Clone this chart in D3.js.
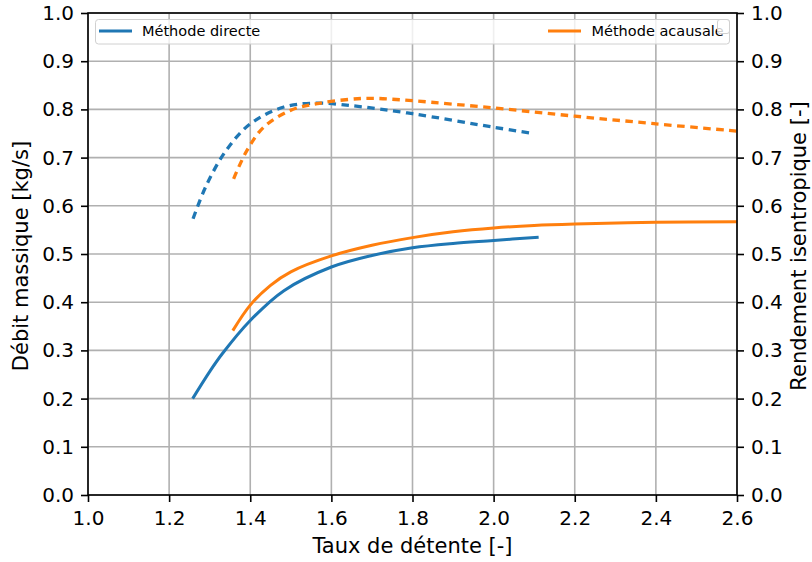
<!DOCTYPE html>
<html>
<head>
<meta charset="utf-8">
<script src="https://cdn.jsdelivr.net/npm/d3@7"></script>
<style>
  html, body { margin: 0; padding: 0; background: #fff; }
  svg { display: block; font-family: "DejaVu Sans", sans-serif; }
</style>
</head>
<body>
<svg id="chart" width="812" height="562"></svg>
<script>
// ---- data ----
const xTicks = [1.0, 1.2, 1.4, 1.6, 1.8, 2.0, 2.2, 2.4, 2.6];
const yTicks = [0.0, 0.1, 0.2, 0.3, 0.4, 0.5, 0.6, 0.7, 0.8, 0.9, 1.0];

// mass flow (left axis), solid lines
const directFlowX = [1.258, 1.30, 1.331, 1.40, 1.483, 1.60, 1.70, 1.80, 1.90, 2.00, 2.111];
const directFlowY = [0.200, 0.256, 0.293, 0.362, 0.424, 0.473, 0.497, 0.513, 0.522, 0.528, 0.535];
const acausalFlowX = [1.357, 1.40, 1.45, 1.50, 1.60, 1.70, 1.80, 1.90, 2.00, 2.10, 2.20, 2.40, 2.60];
const acausalFlowY = [0.341, 0.394, 0.435, 0.463, 0.496, 0.518, 0.534, 0.546, 0.554, 0.559, 0.562, 0.566, 0.567];

// isentropic efficiency (right axis), dashed lines
const directEffX = [1.259, 1.29, 1.339, 1.40, 1.483, 1.565, 1.647, 1.80, 2.00, 2.091];
const directEffY = [0.573, 0.639, 0.713, 0.770, 0.805, 0.813, 0.808, 0.791, 0.763, 0.751];
const acausalEffX = [1.359, 1.392, 1.433, 1.499, 1.565, 1.647, 1.70, 1.80, 2.00, 2.20, 2.40, 2.60];
const acausalEffY = [0.656, 0.715, 0.763, 0.798, 0.812, 0.821, 0.823, 0.818, 0.803, 0.786, 0.770, 0.755];

const seriesNames = ["Méthode directe", "Méthode acausale"];
const seriesColors = ["#1f77b4", "#ff7f0e"];
const xLabel = "Taux de détente [-]";
const yLabelLeft = "Débit massique [kg/s]";
const yLabelRight = "Rendement isentropique [-]";

// ---- layout ----
const W = 812, H = 562;
const m = { left: 88, right: 75, top: 13, bottom: 67 };
const iw = W - m.left - m.right, ih = H - m.top - m.bottom;
const tickFont = 20, labelFont = 21, legendFont = 14.5;

const svg = d3.select("#chart");
const g = svg.append("g").attr("transform", `translate(${m.left},${m.top})`);

const x = d3.scaleLinear().domain([1.0, 2.6]).range([0, iw]);
const yL = d3.scaleLinear().domain([0, 1]).range([ih, 0]);
const yR = d3.scaleLinear().domain([0, 1]).range([ih, 0]);

// grid
g.append("g").selectAll("line").data(xTicks).join("line")
  .attr("x1", d => x(d)).attr("x2", d => x(d)).attr("y1", 0).attr("y2", ih)
  .attr("stroke", "#b0b0b0").attr("stroke-width", 1.6);
g.append("g").selectAll("line").data(yTicks).join("line")
  .attr("y1", d => yL(d)).attr("y2", d => yL(d)).attr("x1", 0).attr("x2", iw)
  .attr("stroke", "#b0b0b0").attr("stroke-width", 1.6);

// lines
const mk = (xs, ys) => xs.map((v, i) => [v, ys[i]]);
const lineL = d3.line().x(d => x(d[0])).y(d => yL(d[1])).curve(d3.curveCatmullRom.alpha(0.5));
const lineR = d3.line().x(d => x(d[0])).y(d => yR(d[1])).curve(d3.curveCatmullRom.alpha(0.5));

g.append("clipPath").attr("id", "clip").append("rect")
  .attr("x", 0).attr("y", 0).attr("width", iw).attr("height", ih);
const plot = g.append("g").attr("clip-path", "url(#clip)");

plot.append("path").attr("d", lineL(mk(directFlowX, directFlowY)))
  .attr("fill", "none").attr("stroke", seriesColors[0]).attr("stroke-width", 3);
plot.append("path").attr("d", lineL(mk(acausalFlowX, acausalFlowY)))
  .attr("fill", "none").attr("stroke", seriesColors[1]).attr("stroke-width", 3);
plot.append("path").attr("d", lineR(mk(directEffX, directEffY)))
  .attr("fill", "none").attr("stroke", seriesColors[0]).attr("stroke-width", 3.3)
  .attr("stroke-dasharray", "7.5,5.5");
plot.append("path").attr("d", lineR(mk(acausalEffX, acausalEffY)))
  .attr("fill", "none").attr("stroke", seriesColors[1]).attr("stroke-width", 3.3)
  .attr("stroke-dasharray", "7.5,5.5");

// axes
const fmt = d3.format(".1f");
const ax = g.append("g").attr("transform", `translate(0,${ih})`)
  .call(d3.axisBottom(x).tickValues(xTicks).tickFormat(fmt).tickSize(7).tickPadding(9));
const ayl = g.append("g")
  .call(d3.axisLeft(yL).tickValues(yTicks).tickFormat(fmt).tickSize(7).tickPadding(7));
const ayr = g.append("g").attr("transform", `translate(${iw},0)`)
  .call(d3.axisRight(yR).tickValues(yTicks).tickFormat(fmt).tickSize(7).tickPadding(7));
[ax, ayl, ayr].forEach(a => {
  a.select(".domain").remove();
  a.selectAll("line").attr("stroke", "#000").attr("stroke-width", 1.6);
  a.selectAll("text").attr("font-size", tickFont).attr("fill", "#000")
    .attr("font-family", "DejaVu Sans, sans-serif");
});

// spines
g.append("rect").attr("x", 0).attr("y", 0).attr("width", iw).attr("height", ih)
  .attr("fill", "none").attr("stroke", "#000").attr("stroke-width", 1.6);

// axis labels
svg.append("text").attr("x", m.left + iw / 2).attr("y", 553)
  .attr("text-anchor", "middle").attr("font-size", labelFont).text(xLabel);
svg.append("text").attr("transform", `translate(28,${m.top + ih / 2 + 2}) rotate(-90)`)
  .attr("text-anchor", "middle").attr("font-size", labelFont).text(yLabelLeft);
svg.append("text").attr("transform", `translate(806,${m.top + ih / 2 - 8}) rotate(-90)`)
  .attr("text-anchor", "middle").attr("font-size", labelFont).text(yLabelRight);

// legend
const leg = svg.append("g");
leg.append("rect").attr("x", 95.5).attr("y", 19.5).attr("width", 634).attr("height", 24.5)
  .attr("rx", 3).attr("fill", "#fff").attr("fill-opacity", 0.8)
  .attr("stroke", "#d0d0d0").attr("stroke-width", 1);
const legPos = [{ hx: 99, tx: 142 }, { hx: 548, tx: 591.5 }];
seriesNames.forEach((name, i) => {
  leg.append("line").attr("x1", legPos[i].hx).attr("x2", legPos[i].hx + 33)
    .attr("y1", 31).attr("y2", 31).attr("stroke", seriesColors[i]).attr("stroke-width", 3);
  leg.append("text").attr("x", legPos[i].tx).attr("y", 36)
    .attr("font-size", legendFont).attr("fill", "#000").text(name);
});
// empty second legend (twin axis)
leg.append("rect").attr("x", 717.5).attr("y", 19.5).attr("width", 12).attr("height", 14)
  .attr("rx", 2.5).attr("fill", "#fff").attr("fill-opacity", 0.8)
  .attr("stroke", "#d0d0d0").attr("stroke-width", 1);
</script>
</body>
</html>
